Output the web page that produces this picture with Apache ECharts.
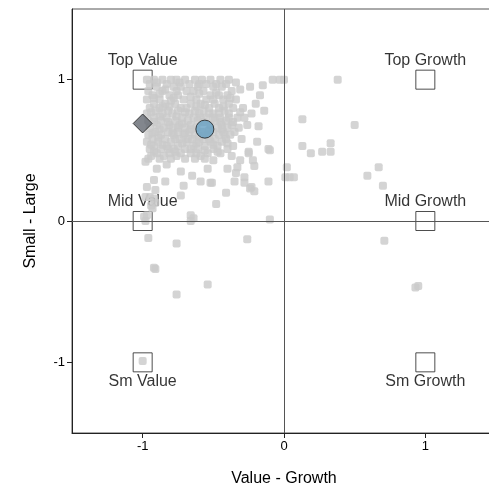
<!DOCTYPE html>
<html>
<head>
<meta charset="utf-8">
<script src="https://cdn.jsdelivr.net/npm/echarts@6/dist/echarts.min.js"></script>
<style>
  html, body { margin: 0; padding: 0; background: #fff; }
  #chart { width: 489px; height: 489px; }
</style>
</head>
<body>
<div id="chart"></div>
<script>
// Style-box reference corners (value-growth, small-large)
const boxNames = ['Top Value', 'Top Growth', 'Mid Value', 'Mid Growth', 'Sm Value', 'Sm Growth'];
const boxX = [-1, 1, -1, 1, -1, 1];
const boxY = [1, 1, 0, 0, -1, -1];

// Tick values shown on both axes
const tickValues = [-1, 0, 1];

// Individual holdings (value-growth score, size score)
const holdings = [
  // upper dense band
  [-0.97, 1.00], [-0.92, 1.00], [-0.86, 1.00], [-0.80, 1.00], [-0.76, 1.00], [-0.70, 1.00], [-0.63, 1.00], [-0.58, 1.00], [-0.52, 1.00], [-0.45, 1.00], [-0.39, 1.00],
  [-0.08, 1.00], [-0.03, 1.00], [0.00, 1.00], [0.38, 1.00],
  [-0.95, 0.97], [-0.83, 0.97], [-0.67, 0.97], [-0.55, 0.97], [-0.48, 0.97], [-0.41, 0.97], [-0.34, 0.98],
  [-0.90, 0.95], [-0.78, 0.95], [-0.73, 0.95], [-0.61, 0.95], [-0.50, 0.95], [-0.44, 0.95], [-0.24, 0.95], [-0.15, 0.96],
  [-0.96, 0.92], [-0.86, 0.92], [-0.69, 0.92], [-0.64, 0.92], [-0.57, 0.92], [-0.37, 0.92], [-0.31, 0.93],
  [-0.93, 0.89], [-0.81, 0.89], [-0.75, 0.89], [-0.52, 0.89], [-0.46, 0.89], [-0.40, 0.89], [-0.17, 0.89], [-0.88, 0.90],
  [-0.97, 0.86], [-0.88, 0.86], [-0.71, 0.86], [-0.62, 0.86], [-0.55, 0.86], [-0.43, 0.86], [-0.34, 0.86], [-0.78, 0.87],
  [-0.92, 0.83], [-0.84, 0.83], [-0.77, 0.83], [-0.66, 0.83], [-0.59, 0.83], [-0.49, 0.83], [-0.39, 0.83], [-0.20, 0.83],
  [-0.95, 0.80], [-0.88, 0.80], [-0.73, 0.80], [-0.69, 0.80], [-0.53, 0.80], [-0.46, 0.80], [-0.36, 0.80], [-0.29, 0.80], [-0.81, 0.81],
  [-0.91, 0.78], [-0.82, 0.78], [-0.75, 0.78], [-0.63, 0.78], [-0.57, 0.78], [-0.42, 0.78], [-0.14, 0.78], [-0.31, 0.77],
  [-0.97, 0.76], [-0.86, 0.76], [-0.79, 0.76], [-0.67, 0.76], [-0.60, 0.76], [-0.50, 0.76], [-0.39, 0.76], [-0.23, 0.76],
  [-0.92, 0.73], [-0.83, 0.73], [-0.72, 0.73], [-0.64, 0.73], [-0.55, 0.73], [-0.45, 0.73], [-0.33, 0.73], [-0.28, 0.73],
  [-0.96, 0.71], [-0.87, 0.71], [-0.77, 0.71], [-0.68, 0.71], [-0.61, 0.71], [-0.49, 0.71], [-0.41, 0.71], [-0.36, 0.70],
  [-0.90, 0.68], [-0.81, 0.68], [-0.74, 0.68], [-0.66, 0.68], [-0.52, 0.68], [-0.44, 0.68], [-0.37, 0.68], [-0.26, 0.68], [-0.18, 0.67],
  [-0.95, 0.66], [-0.85, 0.66], [-0.79, 0.66], [-0.70, 0.66], [-0.62, 0.66], [-0.47, 0.66], [-0.40, 0.66], [-0.32, 0.66],
  [-0.91, 0.63], [-0.82, 0.63], [-0.75, 0.63], [-0.67, 0.63], [-0.58, 0.63], [-0.50, 0.63], [-0.43, 0.63], [-0.35, 0.63],
  [-0.96, 0.61], [-0.87, 0.61], [-0.78, 0.61], [-0.71, 0.61], [-0.63, 0.61], [-0.54, 0.61], [-0.46, 0.61], [-0.38, 0.61],
  [-0.93, 0.58], [-0.84, 0.58], [-0.74, 0.58], [-0.65, 0.58], [-0.57, 0.58], [-0.49, 0.58], [-0.41, 0.58], [-0.30, 0.58],
  [-0.97, 0.56], [-0.89, 0.56], [-0.80, 0.56], [-0.69, 0.56], [-0.60, 0.56], [-0.52, 0.56], [-0.44, 0.56], [-0.19, 0.56],
  [-0.92, 0.53], [-0.83, 0.53], [-0.75, 0.53], [-0.64, 0.53], [-0.56, 0.53], [-0.47, 0.53], [-0.36, 0.53],
  [-0.95, 0.51], [-0.87, 0.51], [-0.78, 0.51], [-0.70, 0.51], [-0.61, 0.51], [-0.50, 0.51], [-0.40, 0.51], [-0.11, 0.51],
  [-0.90, 0.48], [-0.81, 0.48], [-0.73, 0.48], [-0.66, 0.48], [-0.54, 0.48], [-0.45, 0.48], [-0.25, 0.48], [-0.10, 0.50],
  [-0.94, 0.46], [-0.85, 0.46], [-0.76, 0.46], [-0.59, 0.46], [-0.47, 0.49], [-0.37, 0.46], [-0.25, 0.49],
  [-0.96, 0.44], [-0.88, 0.44], [-0.80, 0.44], [-0.70, 0.44], [-0.63, 0.44], [-0.56, 0.44],
  // core of the cluster, between the rows above
  [-0.90, 0.98], [-0.74, 0.98], [-0.60, 0.97], [-0.84, 0.93], [-0.76, 0.92], [-0.60, 0.90], [-0.48, 0.91],
  [-0.92, 0.87], [-0.80, 0.85], [-0.66, 0.88], [-0.50, 0.86], [-0.38, 0.87], [-0.86, 0.81], [-0.62, 0.81],
  [-0.56, 0.82], [-0.43, 0.81], [-0.94, 0.77], [-0.70, 0.77], [-0.53, 0.76], [-0.46, 0.76], [-0.88, 0.74],
  [-0.76, 0.74], [-0.59, 0.73], [-0.50, 0.73], [-0.39, 0.73], [-0.92, 0.70], [-0.82, 0.70], [-0.72, 0.69],
  [-0.57, 0.70], [-0.45, 0.70], [-0.88, 0.65], [-0.75, 0.66], [-0.66, 0.65], [-0.53, 0.64], [-0.44, 0.65],
  [-0.93, 0.62], [-0.79, 0.62], [-0.70, 0.62], [-0.60, 0.60], [-0.42, 0.61], [-0.89, 0.59], [-0.77, 0.58],
  [-0.68, 0.58], [-0.53, 0.58], [-0.94, 0.54], [-0.86, 0.54], [-0.72, 0.55], [-0.62, 0.55], [-0.50, 0.54],
  [-0.40, 0.55], [-0.82, 0.51], [-0.66, 0.51], [-0.56, 0.50], [-0.92, 0.49], [-0.77, 0.49], [-0.62, 0.48],
  // thinning middle band
  [-0.98, 0.42], [-0.83, 0.40], [-0.50, 0.43], [-0.31, 0.43], [-0.22, 0.43], [-0.21, 0.39],
  [-0.90, 0.37], [-0.54, 0.37], [-0.40, 0.37], [-0.33, 0.38], [-0.73, 0.35], [-0.34, 0.34], [-0.65, 0.32],
  [-0.28, 0.31], [-0.92, 0.29], [-0.84, 0.28], [-0.59, 0.28], [-0.52, 0.27], [-0.51, 0.27], [-0.35, 0.28],
  [-0.28, 0.27], [-0.11, 0.28], [-0.71, 0.25], [-0.97, 0.24], [-0.23, 0.24], [-0.24, 0.23], [-0.91, 0.22],
  [-0.21, 0.21], [-0.41, 0.20], [-0.73, 0.18], [-0.95, 0.17], [-0.98, 0.17], [-0.92, 0.16], [-0.91, 0.13],
  [-0.48, 0.12], [-0.94, 0.11], [-0.93, 0.09], [-0.97, 0.04], [-0.66, 0.04], [-0.99, 0.03], [-0.64, 0.02],
  [-0.66, 0.00], [-0.98, 0.00], [-0.10, 0.01],
  // near the vertical centre line and to the growth side
  [0.02, 0.38], [0.01, 0.31], [0.04, 0.31], [0.07, 0.31],
  [0.13, 0.72], [0.50, 0.68], [0.13, 0.53], [0.19, 0.48], [0.27, 0.49], [0.33, 0.55], [0.33, 0.49],
  [0.67, 0.38], [0.59, 0.32], [0.70, 0.25], [0.71, -0.14], [0.93, -0.47], [0.95, -0.46],
  // lower holdings
  [-0.96, -0.12], [-0.76, -0.16], [-0.26, -0.13], [-0.92, -0.33], [-0.91, -0.34],
  [-0.54, -0.45], [-0.76, -0.52], [-1.00, -0.99]
];

// Fund centroid and benchmark position
const fundPoint = [-0.56, 0.65];
const benchmarkPoint = [-1.00, 0.69];

const font = '"Liberation Sans", Arial, sans-serif';

const boxData = boxNames.map((name, i) => ({
  name: name,
  value: [boxX[i], boxY[i]],
  label: { position: boxY[i] < 0 ? 'bottom' : 'top' }
}));

const chart = echarts.init(document.getElementById('chart'), null, { renderer: 'canvas' });

const axisCommon = {
  type: 'value',
  min: -1.5,
  max: 1.5,
  nameLocation: 'middle',
  nameTextStyle: { fontFamily: font, fontSize: 16, color: '#000' },
  axisLine: { show: true, onZero: false, lineStyle: { color: '#222', width: 1 } },
  axisTick: { show: true, length: 5, customValues: tickValues, lineStyle: { color: '#222' } },
  axisLabel: { customValues: tickValues, fontFamily: font, fontSize: 13, color: '#000', margin: 7 },
  splitLine: { show: false }
};

chart.setOption({
  animation: false,
  backgroundColor: '#fff',
  grid: {
    left: 72, right: -7, top: 9, bottom: 56,
    outerBoundsMode: 'none',
    containLabel: false,
    show: true, borderColor: '#555', borderWidth: 1, backgroundColor: 'transparent'
  },
  xAxis: Object.assign({}, axisCommon, { name: 'Value - Growth', nameGap: 38 }),
  yAxis: Object.assign({}, axisCommon, { name: 'Small - Large', nameGap: 33 }),
  series: [
    {
      type: 'scatter',
      z: 1,
      symbol: 'rect',
      symbolSize: 19,
      itemStyle: { color: 'rgba(0,0,0,0)', borderColor: '#222', borderWidth: 1 },
      label: {
        show: true,
        formatter: '{b}',
        distance: 1,
        fontFamily: font,
        fontSize: 16,
        color: '#000'
      },
      data: boxData,
      markLine: {
        silent: true,
        symbol: 'none',
        label: { show: false },
        lineStyle: { color: '#555', width: 1, type: 'solid' },
        data: [{ xAxis: 0 }, { yAxis: 0 }]
      }
    },
    {
      type: 'scatter',
      z: 3,
      symbol: 'roundRect',
      symbolSize: 8,
      itemStyle: { color: '#c9c9c9' },
      data: holdings
    },
    {
      type: 'scatter',
      z: 5,
      symbol: 'diamond',
      symbolSize: 19,
      itemStyle: { color: '#636870', borderColor: '#1a1a1a', borderWidth: 1 },
      data: [benchmarkPoint]
    },
    {
      type: 'scatter',
      z: 6,
      symbol: 'circle',
      symbolSize: 18,
      itemStyle: { color: '#659fc2', borderColor: '#1a1a1a', borderWidth: 1 },
      data: [fundPoint]
    }
  ]
});
</script>
</body>
</html>
